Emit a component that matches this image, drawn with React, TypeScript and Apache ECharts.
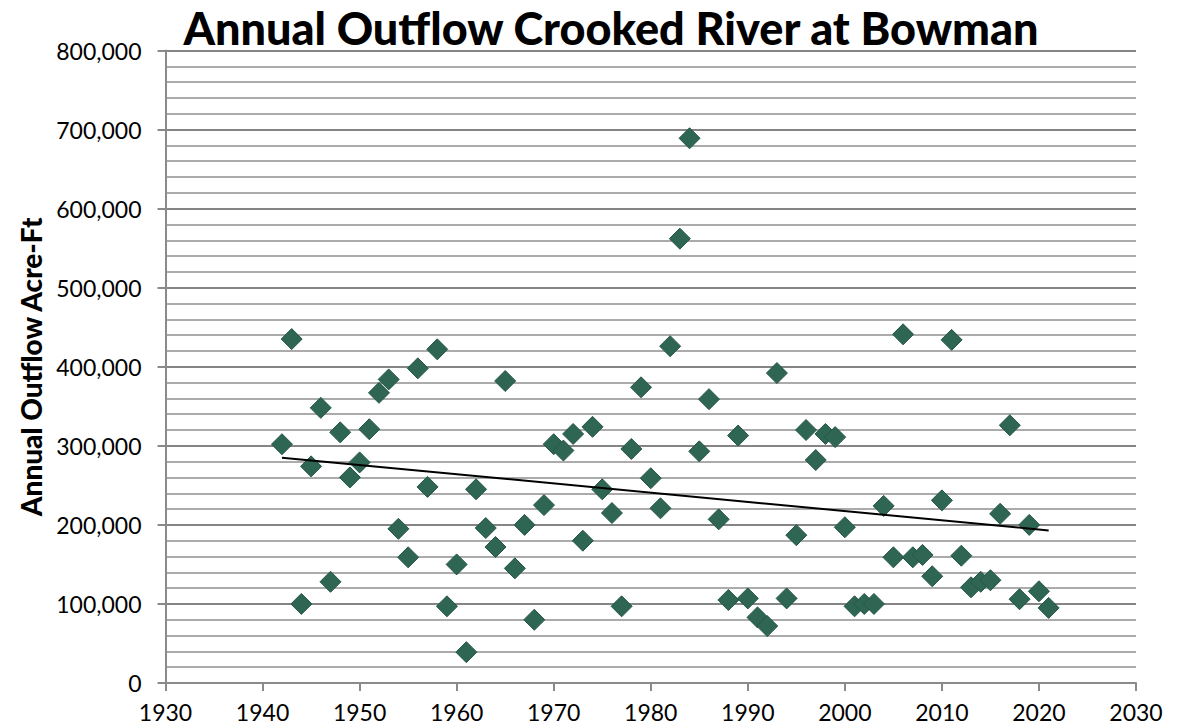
import React, { useEffect, useRef } from "react";
import * as echarts from "echarts";

const years = [
  1942, 1943, 1944, 1945, 1946, 1947, 1948, 1949, 1950, 1951, 1952, 1953, 1954, 1955, 1956, 1957, 1958, 1959, 1960,
  1961, 1962, 1963, 1964, 1965, 1966, 1967, 1968, 1969, 1970, 1971, 1972, 1973, 1974, 1975, 1976, 1977, 1978, 1979,
  1980, 1981, 1982, 1983, 1984, 1985, 1986, 1987, 1988, 1989, 1990, 1991, 1992, 1993, 1994, 1995, 1996, 1997, 1998,
  1999, 2000, 2001, 2002, 2003, 2004, 2005, 2006, 2007, 2008, 2009, 2010, 2011, 2012, 2013, 2014, 2015, 2016, 2017,
  2018, 2019, 2020, 2021,
];

const outflow = [
  302000, 435000, 100000, 274000, 348000, 128000, 317000, 260000, 279000, 321000, 367000, 384000, 195000, 159000,
  398000, 248000, 422000, 97000, 150000, 39000, 245000, 196000, 172000, 382000, 145000, 200000, 80000, 225000, 302000,
  294000, 315000, 180000, 324000, 245000, 215000, 97000, 296000, 374000, 259000, 221000, 426000, 562000, 689000,
  293000, 359000, 207000, 105000, 313000, 107000, 83000, 72000, 392000, 107000, 187000, 320000, 282000, 315000,
  311000, 197000, 97000, 100000, 100000, 224000, 159000, 441000, 159000, 162000, 135000, 231000, 434000, 161000,
  121000, 128000, 130000, 214000, 326000, 106000, 200000, 116000, 95000,
];

const trendYears = [1942, 2021];
const trendValues = [285000, 193000];

const title = "Annual Outflow Crooked River at Bowman";
const yName = "Annual Outflow Acre-Ft";

export default function App() {
  const ref = useRef<HTMLDivElement>(null);
  useEffect(() => {
    if (!ref.current) return;
    const chart = echarts.init(ref.current, null, { renderer: "svg" });
    const font = "Lato, 'Open Sans', sans-serif";
    chart.setOption({
      animation: false,
      backgroundColor: "#ffffff",
      title: {
        text: title,
        left: 606,
        textAlign: "center",
        top: 0,
        textStyle: { fontFamily: font, fontWeight: 900, fontSize: 45, color: "#000" },
      },
      grid: { left: 165.5, right: 51, top: 50.5, bottom: 45, containLabel: false },
      xAxis: {
        type: "value",
        min: 1930,
        max: 2030,
        interval: 10,
        axisLine: { show: true, lineStyle: { color: "#8a8a8a", width: 2 } },
        axisTick: { show: true, length: 8, lineStyle: { color: "#8a8a8a", width: 2 } },
        splitLine: { show: false },
        axisLabel: { fontFamily: font, fontSize: 23, color: "#000", margin: 17, formatter: (v: number) => String(v) },
      },
      yAxis: {
        type: "value",
        min: 0,
        max: 800000,
        interval: 100000,
        name: yName,
        nameLocation: "middle",
        nameGap: 118,
        nameTextStyle: { fontFamily: font, fontWeight: 900, fontSize: 28, color: "#000" },
        axisLine: { show: true, lineStyle: { color: "#8a8a8a", width: 2 } },
        axisTick: { show: true, length: 8, lineStyle: { color: "#8a8a8a", width: 2 } },
        minorTick: { show: false, splitNumber: 5 },
        splitLine: { show: true, lineStyle: { color: "#858585", width: 2 } },
        minorSplitLine: { show: true, lineStyle: { color: "#ababab", width: 2 } },
        axisLabel: {
          fontFamily: font,
          fontSize: 23,
          color: "#000",
          margin: 24,
          formatter: (v: number) => v.toLocaleString("en-US"),
        },
      },
      series: [
        {
          type: "scatter",
          data: years.map((y, i) => [y, outflow[i]]),
          symbol: "diamond",
          symbolSize: 21,
          itemStyle: { color: "#2f6553", borderColor: "#27574a", borderWidth: 1, opacity: 1 },
          z: 3,
        },
        {
          type: "line",
          data: trendYears.map((y, i) => [y, trendValues[i]]),
          symbol: "none",
          lineStyle: { color: "#000", width: 2 },
          z: 4,
        },
      ],
    });
    return () => chart.dispose();
  }, []);
  return <div ref={ref} style={{ width: 1187, height: 728, position: "absolute", left: 0, top: 0 }} />;
}
